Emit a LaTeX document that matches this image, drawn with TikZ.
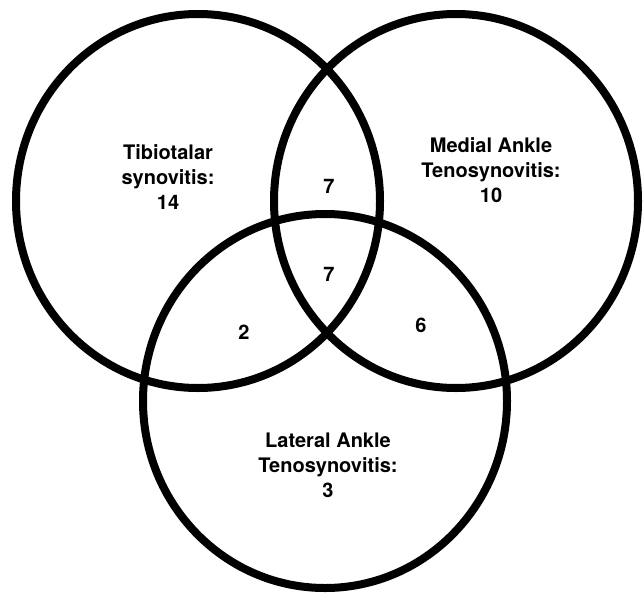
\documentclass[tikz,border=0pt]{standalone}
\usepackage{fontspec}
\setmainfont{TeX Gyre Heros}
\usetikzlibrary{shapes.geometric}

\tikzset{
    set/.style={ellipse, draw, line width=8pt, minimum width=364pt, minimum height=374pt, inner sep=0pt},
    count/.style={font=\fontsize{20}{25}\selectfont\bfseries, align=center, inner sep=0pt}
}

\begin{document}
\begin{tikzpicture}[x=1pt, y=-1pt]
        \useasboundingbox (0, 0) rectangle (644, 594);

        \node (tibio) at (198, 201) [set] {};
        \node (medial) at (456, 201) [set] {};
        \node (lateral) at (325, 401) [set] {};

        \node (tibio-n) at (168, 177) [count] {Tibiotalar\\synovitis:\\14};
        \node (medial-n) at (491, 170) [count] {Medial Ankle\\Tenosynovitis:\\10};
        \node (lateral-n) at (328, 465) [count] {Lateral Ankle\\Tenosynovitis:\\3};

        \node (tm) at (329, 186) [count] {7};
        \node (tml) at (329, 274) [count] {7};
        \node (tl) at (244, 332) [count] {2};
        \node (ml) at (421, 325) [count] {6};

    \end{tikzpicture}
\end{document}
